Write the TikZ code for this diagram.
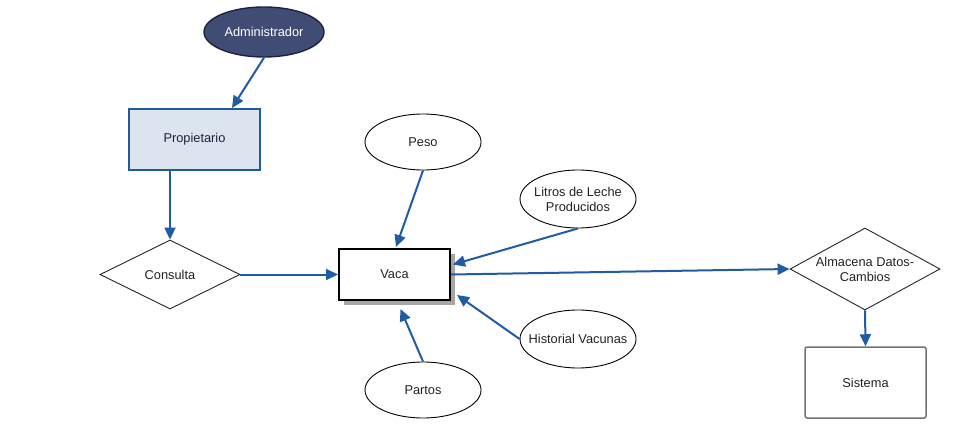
\documentclass[tikz,border=0pt]{standalone}
\usepackage{fontspec}
\setmainfont{Liberation Sans}
\usetikzlibrary{shapes.geometric,arrows.meta,calc,shadows}
\definecolor{arrowblue}{HTML}{1F5CA3}
\definecolor{navy}{HTML}{414C75}
\definecolor{navyborder}{HTML}{1A2440}
\definecolor{propfill}{HTML}{DCE4F0}
\definecolor{propborder}{HTML}{1F5A9A}
\definecolor{txt}{HTML}{222222}
\begin{document}
\begin{tikzpicture}[x=1pt,y=-1pt,
  font=\fontsize{12.8}{15}\selectfont,
  every node/.style={text=txt, align=center, inner sep=0pt},
  every label/.style={text=txt, align=center, inner sep=0pt},
  attr/.style={ellipse, draw=black, line width=0.9pt, fill=white, minimum width=116pt, minimum height=56pt},
  decision/.style={diamond, draw=black!85, line width=0.9pt, fill=white},
  link/.style={draw=arrowblue, line width=2pt, -{Triangle[length=12pt,width=11pt]}}
]
\useasboundingbox (0,0) rectangle (960,438);

\node[ellipse, fill=navy, draw=navyborder, line width=1.4pt, minimum width=120pt, minimum height=50pt,
  label={[text=white]center:Administrador}] (adm) at (264,32) {};
\node[rectangle, fill=propfill, draw=propborder, line width=2pt, minimum width=131pt, minimum height=61pt, text=navyborder] (prop) at (194.5,139.5) {Propietario};
\node[decision, shape aspect=2.03, minimum width=140pt, minimum height=69pt] (cons) at (170,274.5) {Consulta};
\node[rectangle, draw=black, line width=2pt, fill=white, minimum width=111pt, minimum height=51pt,
  drop shadow={shadow xshift=5pt, shadow yshift=-5pt, fill=black!35, opacity=1}] (vaca) at (394.5,274.5) {Vaca};
\node[attr, label={center:Peso}] (peso) at (423,142) {};
\node[attr, minimum height=58pt, label={center:Litros de Leche\\Producidos}] (litros) at (578,199) {};
\node[attr, minimum height=58pt, label={center:Historial Vacunas}] (hist) at (578,339) {};
\node[attr, label={center:Partos}] (partos) at (423,390) {};
\node[decision, shape aspect=1.83, minimum width=150pt, minimum height=82pt,
  label={center:Almacena Datos-\\Cambios}] (alm) at (865,269) {};
\node[rectangle, draw=black!55, line width=1.5pt, rounded corners=2pt, fill=white, minimum width=121pt, minimum height=71pt] (sis) at (865.5,382.5) {Sistema};

\draw[link] (adm.south) -- ($(prop.north)+(37.5,0)$);
\draw[link] (cons.north |- prop.south) -- (cons.north);
\draw[link] (cons.east) -- (vaca.west);
\draw[link] (peso.south) -- ($(vaca.north)+(1.5,-1)$);
\draw[link] (litros.south) -- ($(vaca.east)+(2,-10)$);
\draw[link] (vaca.east) -- (alm.west);
\draw[link] (hist.west) -- ($(vaca.south east)+(6,-6)$);
\draw[link] (partos.north) -- ($(vaca.south)+(6,8)$);
\draw[link] (alm.south) -- (sis.north);
\end{tikzpicture}
\end{document}
